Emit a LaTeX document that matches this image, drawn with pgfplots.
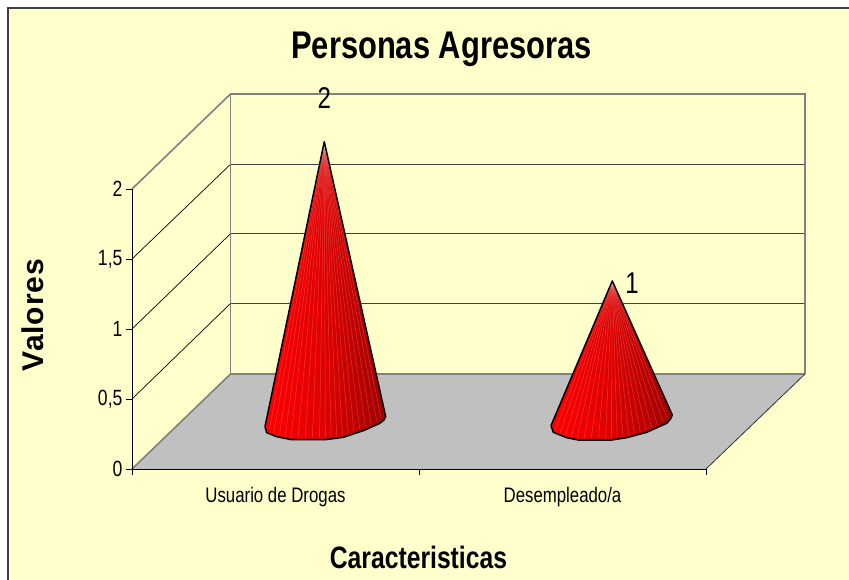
\documentclass[border=0pt]{standalone}
\usepackage{pgfplots}
\pgfplotsset{compat=1.18}
\usepackage{fontspec}
\setmainfont{Liberation Sans}
\newfontfamily\nar[FakeStretch=0.8]{Liberation Sans}
\newfontfamily\spc[LetterSpace=3]{Liberation Sans}
\definecolor{bgc}{HTML}{FFFFCC}
\definecolor{edge}{HTML}{808080}
\definecolor{floorc}{HTML}{C0C0C0}
\newcommand{\sA}[2]{\addplot[line width=0.5pt,color=white,opacity=0.22,forget plot] coordinates {(0.6700,2.3379)(#1,#2)};}
\newcommand{\sB}[2]{\addplot[line width=0.5pt,color=white,opacity=0.22,forget plot] coordinates {(1.6735,1.3429)(#1,#2)};}
\begin{document}
\begin{tikzpicture}
\path[use as bounding box] (-132pt,-111pt) rectangle (717pt,469pt);
\fill[white] (-132pt,-111pt) rectangle (717pt,469pt);
\fill[bgc] (-124pt,-111pt) rectangle (717pt,461pt);
\draw[color=black!75,line width=1.4pt] (-124pt,-111pt) -- (-124pt,461pt) -- (717pt,461pt);
\begin{axis}[
  scale only axis, width=574pt, height=280pt,
  xmin=0, xmax=2, ymin=0, ymax=2,
  clip=false, axis on top,
  axis x line*=bottom, axis y line*=left,
  axis line style={black,line width=0.9pt,-},
  xtick={0,1,2}, xticklabels={,,},
  extra x ticks={0.5,1.5},
  extra x tick labels={Usuario de Drogas,Desempleado/a},
  extra x tick style={major tick length=0pt,
    tick label style={font=\nar\fontsize{21}{21}\selectfont,yshift=-15pt}},
  ytick={0,0.5,1,1.5,2}, yticklabels={0,{0,5},1,{1,5},2},
  y tick label style={font=\nar\fontsize{22}{22}\selectfont},
  tick style={black,line width=0.8pt},
  major tick length=6pt, tick align=outside,
  title={Personas Agresoras},
  title style={at={(0.5392,1.4786)},anchor=center,font=\nar\bfseries\fontsize{38.6}{38.6}\selectfont},
  xlabel={Caracteristicas},
  xlabel style={at={(0.4991,-0.3143)},anchor=center,font=\nar\bfseries\fontsize{30.9}{30.9}\selectfont},
  ylabel={Valores},
  ylabel style={at={(-0.1725,0.55)},anchor=center,font=\spc\bfseries\fontsize{30}{30}\selectfont},
]
% floor
\addplot[fill=floorc,draw=none,forget plot] coordinates {(0,0)(2,0)(2.345,0.6786)(0.3432,0.6786)} --cycle;
% back wall grid
\addplot[color=black!75,line width=0.9pt,forget plot] coordinates {(0.3432,1.1821)(2.345,1.1821)};
\addplot[color=black!75,line width=0.9pt,forget plot] coordinates {(0.3432,1.6807)(2.345,1.6807)};
\addplot[color=black!75,line width=0.9pt,forget plot] coordinates {(0.3432,2.1764)(2.345,2.1764)};
% side wall grid
\addplot[color=black,line width=0.7pt,forget plot] coordinates {(0,0.5)(0.3432,1.1821)};
\addplot[color=black,line width=0.7pt,forget plot] coordinates {(0,1)(0.3432,1.6807)};
\addplot[color=black,line width=0.7pt,forget plot] coordinates {(0,1.5)(0.3432,2.1764)};
% edges
\addplot[color=edge,line width=1.6pt,forget plot] coordinates {(0,0)(0.3432,0.6786)(2.345,0.6786)};
\addplot[color=edge,line width=1.6pt,forget plot] coordinates {(0,2)(0.3432,2.6786)(2.345,2.6786)(2.345,0.6786)};
\addplot[color=edge,line width=1.6pt,forget plot] coordinates {(0.3432,0.6786)(0.3432,2.6786)};
\addplot[color=black!80,line width=0.8pt,forget plot] coordinates {(2,0)(2.345,0.6786)};
% cone 1: value 2
\addplot[draw=none,left color=red,right color=red!62!black,middle color=red!87!black,forget plot] coordinates {(0.6700,2.3379)(0.4634,0.3021)(0.4693,0.2593)(0.5042,0.2307)(0.5564,0.2093)(0.6725,0.2093)(0.7362,0.2264)(0.8059,0.2736)(0.8641,0.3264)(0.878,0.35)(0.8840,0.3736)} --cycle;
\sA{0.4785}{0.2835}\sA{0.4935}{0.2535}\sA{0.5135}{0.2385}\sA{0.5335}{0.2285}\sA{0.5535}{0.2235}
\sA{0.5785}{0.2235}\sA{0.6035}{0.2235}\sA{0.6285}{0.2235}\sA{0.6535}{0.2235}\sA{0.6735}{0.2235}
\sA{0.6935}{0.2285}\sA{0.7135}{0.2335}\sA{0.7335}{0.2435}\sA{0.7535}{0.2535}\sA{0.7735}{0.2685}
\sA{0.7935}{0.2835}\sA{0.8135}{0.2985}\sA{0.8335}{0.3185}\sA{0.8535}{0.3385}\sA{0.8685}{0.3585}
\addplot[draw=black,line width=1.5pt,line join=round,forget plot] coordinates {(0.6700,2.3379)(0.4634,0.3021)(0.4693,0.2593)(0.5042,0.2307)(0.5564,0.2093)(0.6725,0.2093)(0.7362,0.2264)(0.8059,0.2736)(0.8641,0.3264)(0.878,0.35)(0.8840,0.3736)} --cycle;
% cone 2: value 1
\addplot[draw=none,left color=red,right color=red!62!black,middle color=red!87!black,forget plot] coordinates {(1.6735,1.3429)(1.4599,0.3093)(1.4679,0.2621)(1.5146,0.2236)(1.5551,0.2071)(1.6714,0.2071)(1.7237,0.2236)(1.7934,0.2621)(1.8631,0.3264)(1.8763,0.3571)(1.8826,0.3857)} --cycle;
\sB{1.4755}{0.2835}\sB{1.4905}{0.2535}\sB{1.5105}{0.2385}\sB{1.5305}{0.2285}\sB{1.5505}{0.2235}
\sB{1.5755}{0.2235}\sB{1.6005}{0.2235}\sB{1.6255}{0.2235}\sB{1.6505}{0.2235}\sB{1.6705}{0.2235}
\sB{1.6905}{0.2285}\sB{1.7105}{0.2335}\sB{1.7305}{0.2435}\sB{1.7505}{0.2535}\sB{1.7705}{0.2685}
\sB{1.7905}{0.2835}\sB{1.8105}{0.2985}\sB{1.8305}{0.3185}\sB{1.8505}{0.3385}\sB{1.8655}{0.3585}
\addplot[draw=black,line width=1.5pt,line join=round,forget plot] coordinates {(1.6735,1.3429)(1.4599,0.3093)(1.4679,0.2621)(1.5146,0.2236)(1.5551,0.2071)(1.6714,0.2071)(1.7237,0.2236)(1.7934,0.2621)(1.8631,0.3264)(1.8763,0.3571)(1.8826,0.3857)} --cycle;
% data labels
\node[font=\nar\fontsize{30}{30}\selectfont] at (axis cs:0.6700,2.65) {2};
\node[font=\nar\fontsize{30}{30}\selectfont] at (axis cs:1.7422,1.33) {1};
\end{axis}
\end{tikzpicture}
\end{document}
